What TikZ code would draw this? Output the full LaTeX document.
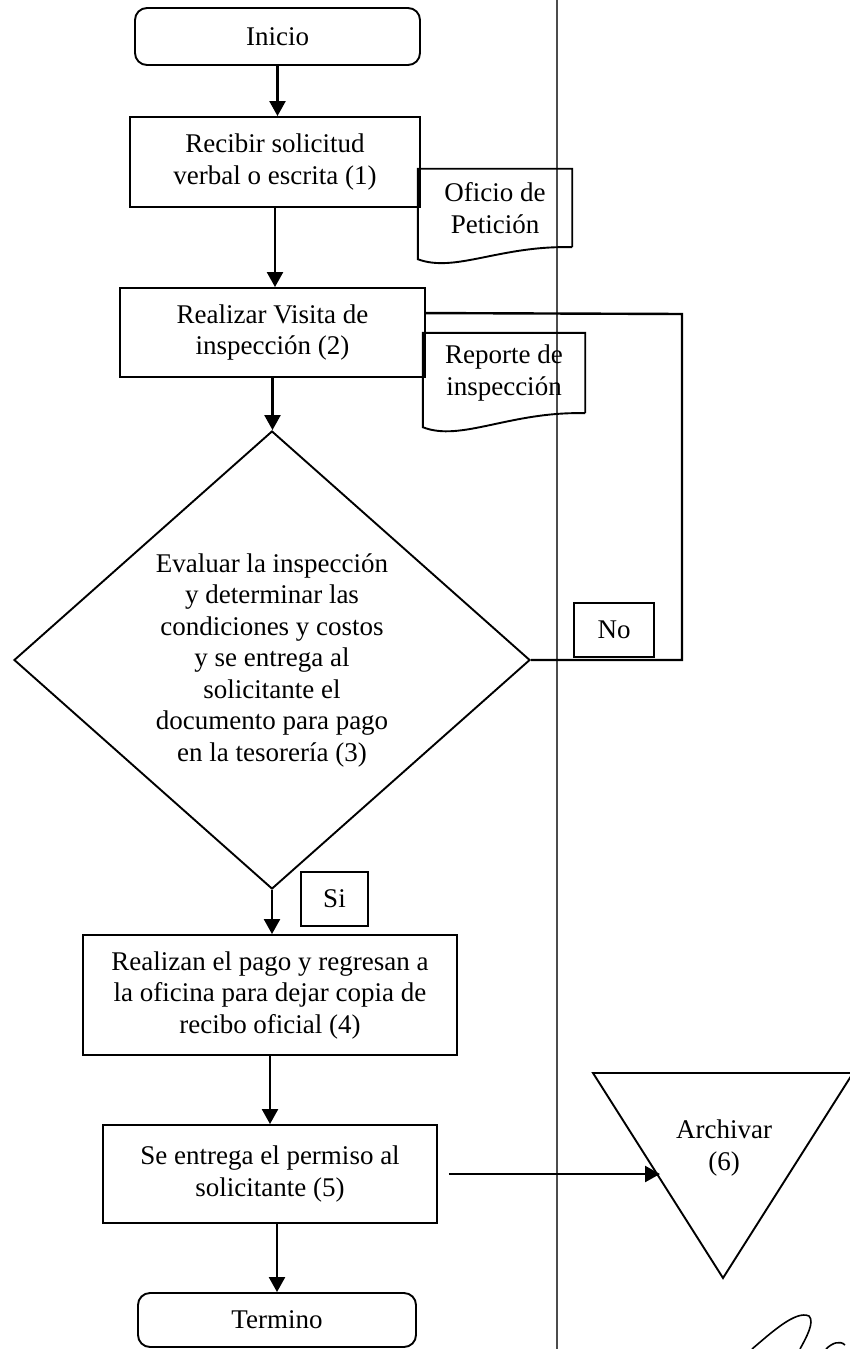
\documentclass[tikz,border=0pt]{standalone}
\usepackage{fontspec}
\setmainfont{Liberation Serif}
\usetikzlibrary{shapes.geometric,arrows.meta}

\begin{document}
\begin{tikzpicture}[x=1bp,y=-1bp,>={Triangle[length=15bp,width=16bp]},
  font=\fontsize{27bp}{31.5bp}\selectfont,
  proc/.style={draw,line width=1.9bp,align=center,inner sep=0pt},
  term/.style={proc,rounded corners=12bp},
  doc/.style={align=center,inner sep=0pt},
  tag/.style={draw,line width=1.6bp,minimum width=#1,minimum height=54bp,inner sep=0pt},
  flow/.style={line width=2.4bp},
  lane/.style={black!70,line width=1.8bp}]
\useasboundingbox (0,0) rectangle (849,1349);
\draw[lane] (557,0) -- (557,1349);

\node[term,minimum width=285bp,minimum height=57bp] (inicio) at (277.5,36.5) {Inicio};
\node[proc,minimum width=290bp,minimum height=90bp] (recibir) at (275,162) {Recibir solicitud\\verbal o escrita (1)};
\node[proc,minimum width=305bp,minimum height=89bp] (realizar) at (272.5,332.5) {Realizar Visita de\\inspección (2)};
\node[proc,diamond,minimum width=516bp,minimum height=458bp] (evaluar) at (272,660)
  {Evaluar la inspección\\y determinar las\\condiciones y costos\\y se entrega al\\solicitante el\\documento para pago\\en la tesorería (3)};
\node[proc,minimum width=374bp,minimum height=120bp] (pago) at (270,995) {Realizan el pago y regresan a\\la oficina para dejar copia de\\recibo oficial (4)};
\node[proc,minimum width=334bp,minimum height=98bp] (entrega) at (270,1174) {Se entrega el permiso al\\solicitante (5)};
\node[term,minimum width=278bp,minimum height=54bp] (termino) at (277,1320) {Termino};

% documentos
\node[doc,minimum width=154bp,minimum height=78bp] (oficio) at (495,208) {Oficio de\\Petición};
\draw[line width=1.9bp] (oficio.south east) -- (oficio.north east) -- (oficio.north west)
  -- ([yshift=-12bp]oficio.south west) .. controls +(37,14) and +(-72,-2) .. (oficio.south east);
\node[doc,minimum width=162bp,minimum height=80bp] (reporte) at (504,373) {Reporte de\\inspección};
\draw[line width=1.9bp] (reporte.south east) -- (reporte.north east) -- (reporte.north west)
  -- ([yshift=-14bp]reporte.south west) .. controls +(38,15) and +(-75,-2) .. (reporte.south east);

\node[tag=67bp] (si) at (334.5,899) {Si};
\node[tag=80bp] (no) at (614,630) {No};

% archivo
\coordinate (arcA) at (593,1073);
\coordinate (arcB) at (853,1073);
\coordinate (arcC) at (723,1278);
\draw[line width=1.9bp] (arcA) -- (arcB) -- (arcC) -- cycle;
\node[doc] (archivar) at (724,1148) {Archivar\\(6)};
\coordinate (arcin) at (660,1178);
\coordinate (vuelta) at (682,314);

\foreach \a/\b in {inicio/recibir,recibir/realizar,realizar/evaluar,evaluar/pago,pago/entrega}
  \draw[flow,->] (\a.south) -- (\a.south |- \b.north);
\draw[flow,->] (termino.north |- entrega.south) -- (termino.north);
\draw[flow,->] ([xshift=11bp]entrega.east) -- (arcin |- entrega.east);
\draw[flow] (evaluar.east) -| (vuelta) -- ([yshift=-26bp]realizar.north east);

% firma
\draw[line width=1.6bp] (752,1349) .. controls (772,1332) and (796,1310) .. (809,1316)
  .. controls (815,1322) and (806,1338) .. (800,1349);
\draw[line width=1.6bp] (826,1349) .. controls (832,1343) and (840,1340) .. (845,1345);
\end{tikzpicture}
\end{document}
